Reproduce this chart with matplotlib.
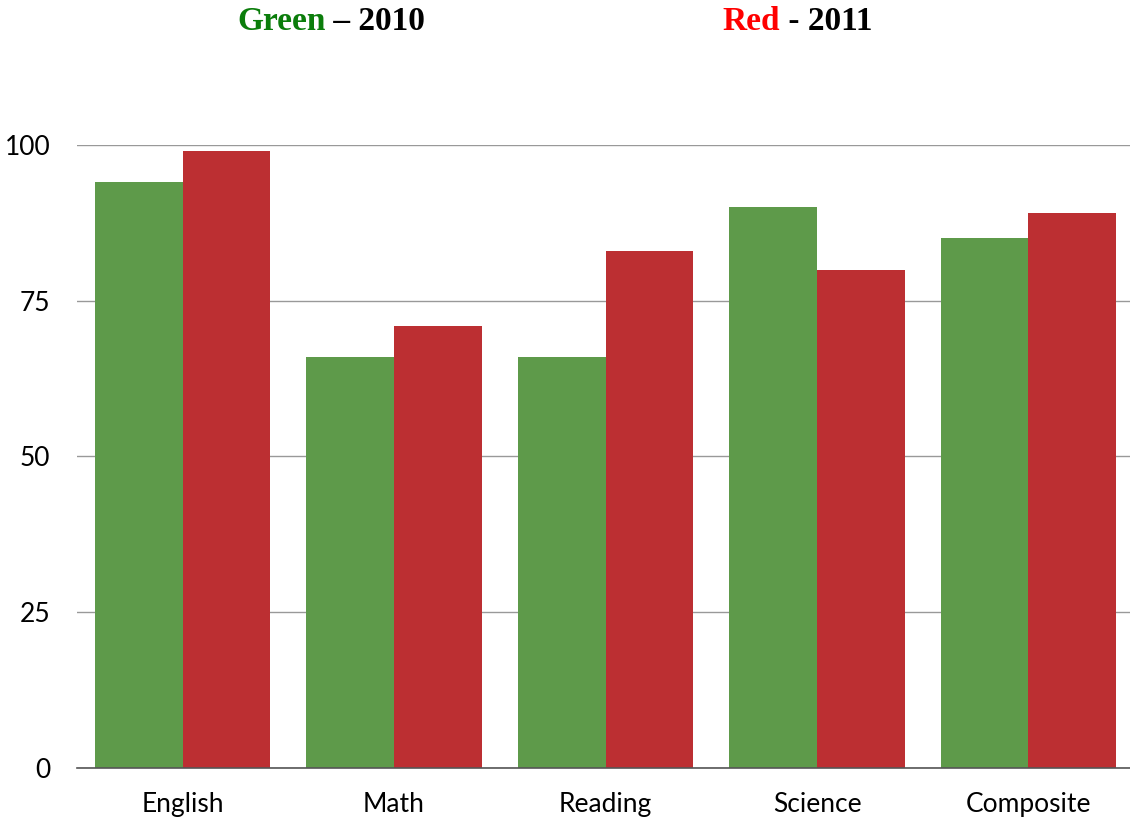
import matplotlib
matplotlib.use("Agg")
import matplotlib.pyplot as plt
import numpy as np

categories = ["English", "Math", "Reading", "Science", "Composite"]
scores_2010 = [94, 66, 66, 90, 85]
scores_2011 = [99, 71, 83, 80, 89]
y_ticks = [0, 25, 50, 75, 100]

green = "#5e9a4a"
red = "#bc2f32"

fig = plt.figure(figsize=(11.30, 8.19), dpi=100)
ax = fig.add_axes([0.068, 0.0623, 0.932, 0.7607])

x = np.arange(len(categories))
w = 0.415
ax.bar(x - w / 2, scores_2010, width=w, color=green, zorder=2)
ax.bar(x + w / 2, scores_2011, width=w, color=red, zorder=2)

ax.set_xlim(-0.5, 4.48)
ax.set_ylim(0, 100)
ax.set_yticks(y_ticks)
ax.set_xticks(x)
ax.set_xticklabels(categories)
ax.yaxis.grid(True, color="#999999", linewidth=1.0, zorder=0)
ax.set_axisbelow(True)
for s in ["top", "right", "left"]:
    ax.spines[s].set_visible(False)
ax.spines["bottom"].set_color("#555555")
ax.spines["bottom"].set_linewidth(1.2)
ax.tick_params(axis="both", length=0, labelsize=19)
ax.tick_params(axis="y", pad=19)
ax.tick_params(axis="x", pad=17)
for lbl in ax.get_xticklabels() + ax.get_yticklabels():
    lbl.set_fontfamily("Lato")

title_font = dict(family="Liberation Serif", weight="bold", fontsize=24)
fig.text(0.288, 0.974, "Green", color="#0b7d0b", ha="right", va="center", **title_font)
fig.text(0.288, 0.974, " \u2013 2010", color="black", ha="left", va="center", **title_font)
fig.text(0.690, 0.974, "Red", color="#ff0000", ha="right", va="center", **title_font)
fig.text(0.690, 0.974, " - 2011", color="black", ha="left", va="center", **title_font)

fig.savefig("out.png", dpi=100, facecolor="white")
